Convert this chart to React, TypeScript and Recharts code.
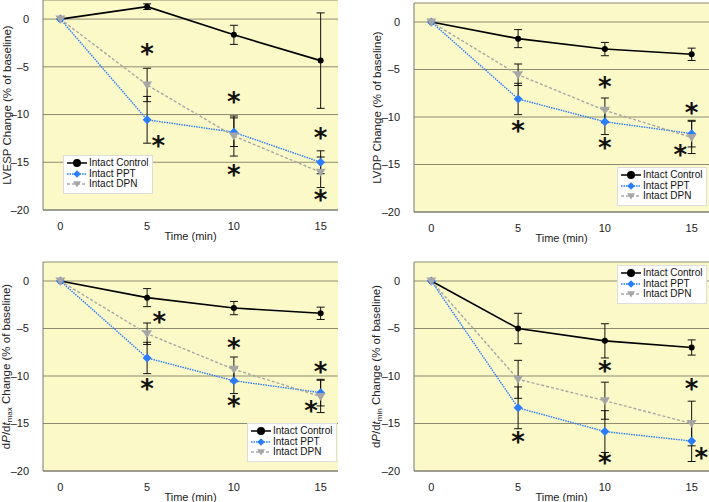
import React from 'react'
import {
  ComposedChart, Line, Scatter, XAxis, YAxis, CartesianGrid, ErrorBar,
} from 'recharts'

const TIMES = [0, 5, 10, 15]
const X_TICKS = [0, 5, 10, 15]
const Y_TICKS = [0, -5, -10, -15, -20]
const SERIES_NAMES = ['Intact Control', 'Intact PPT', 'Intact DPN']

// LVESP
const LVESP_CONTROL = [0, 1.3, -1.65, -4.35]
const LVESP_CONTROL_ERR = [0, 0.3, 1.0, 5.0]
const LVESP_PPT = [0, -10.55, -11.85, -15.0]
const LVESP_PPT_ERR = [0, 2.45, 1.5, 1.2]
const LVESP_DPN = [0, -6.9, -12.25, -16.05]
const LVESP_DPN_ERR = [0, 1.75, 2.1, 1.6]
const LVESP_STARS = [[5, -3.4], [5.65, -13.1], [10, -8.45], [10, -16.1], [15, -12.25], [15, -18.75]]

// LVDP
const LVDP_CONTROL = [0, -1.75, -2.85, -3.4]
const LVDP_CONTROL_ERR = [0, 0.95, 0.7, 0.65]
const LVDP_PPT = [0, -8.1, -10.5, -11.75]
const LVDP_PPT_ERR = [0, 1.65, 1.35, 1.4]
const LVDP_DPN = [0, -5.55, -9.3, -12.15]
const LVDP_DPN_ERR = [0, 1.13, 1.3, 1.7]
const LVDP_STARS = [[5, -11.25], [10, -6.6], [10, -13.1], [15, -9.4], [14.35, -13.8]]

// dP/dt max
const DPMAX_CONTROL = [0, -1.75, -2.85, -3.4]
const DPMAX_CONTROL_ERR = [0, 0.95, 0.7, 0.65]
const DPMAX_PPT = [0, -8.1, -10.5, -11.75]
const DPMAX_PPT_ERR = [0, 1.65, 1.35, 1.4]
const DPMAX_DPN = [0, -5.55, -9.3, -12.15]
const DPMAX_DPN_ERR = [0, 1.13, 1.3, 1.7]
const DPMAX_STARS = [[5.7, -4.15], [5, -11.2], [10, -6.8], [10, -12.9], [15, -9.35], [14.45, -13.45]]

// dP/dt min
const DPMIN_CONTROL = [0, -5.0, -6.3, -7.0]
const DPMIN_CONTROL_ERR = [0, 1.6, 1.8, 0.8]
const DPMIN_PPT = [0, -13.35, -15.85, -16.85]
const DPMIN_PPT_ERR = [0, 2.2, 2.2, 2.15]
const DPMIN_DPN = [0, -10.35, -12.6, -15.0]
const DPMIN_DPN_ERR = [0, 2.0, 1.95, 2.35]
const DPMIN_STARS = [[5, -16.7], [10, -9.3], [10, -18.9], [15, -11.2], [15.55, -18.4]]

const FONT = '"Liberation Sans", Arial, sans-serif'
const BG = '#fcf9c8'
const GRID = '#8e8c70'
const AXIS = '#777'
const BLUE = '#2a7dff'
const GREY = '#a6a6a6'

const fmtTick = (v: number) => (v < 0 ? `\u2013${Math.abs(v)}` : `${v}`)

function CircleDot({ cx, cy, r = 5 }: any) {
  if (cx == null || cy == null) return null
  return <circle cx={cx} cy={cy} r={r} fill="#000" />
}
function DiamondDot({ cx, cy, s = 4.5 }: any) {
  if (cx == null || cy == null) return null
  return <path d={`M${cx},${cy - s}L${cx + s},${cy}L${cx},${cy + s}L${cx - s},${cy}Z`} fill={BLUE} />
}
function TriDot({ cx, cy, s = 5 }: any) {
  if (cx == null || cy == null) return null
  return <path d={`M${cx - s},${cy - s * 0.7}L${cx + s},${cy - s * 0.7}L${cx},${cy + s * 0.9}Z`} fill={GREY} />
}

function Star({ cx, cy }: any) {
  if (cx == null || cy == null) return null
  return (
    <text x={cx} y={cy + 11} textAnchor="middle" fontSize={26} fontWeight="bold"
      fontFamily='"DejaVu Sans", sans-serif' fill="#111">*</text>
  )
}

function LegendBox({ left, top }: { left: number; top: number }) {
  const row = (i: number) => (
    <div key={i} style={{ display: 'flex', alignItems: 'center', height: 10.5 }}>
      <svg width={22} height={10}>
        <line x1={1} x2={21} y1={5} y2={5}
          stroke={i === 0 ? '#000' : i === 1 ? BLUE : GREY}
          strokeWidth={i === 0 ? 1.5 : 1.3}
          strokeDasharray={i === 0 ? undefined : i === 1 ? '1.5 1' : '3 2'} />
        {i === 0 && <CircleDot cx={11} cy={5} r={4} />}
        {i === 1 && <DiamondDot cx={11} cy={5} s={3.8} />}
        {i === 2 && <TriDot cx={11} cy={5} s={4} />}
      </svg>
      <span style={{ marginLeft: 1 }}>{SERIES_NAMES[i]}</span>
    </div>
  )
  return (
    <div style={{
      position: 'absolute', left, top,
      background: '#fff', border: '1px solid #ddd', padding: '2px 4px 3px 2px',
      fontFamily: FONT, fontSize: 10, color: '#111', lineHeight: '10px', whiteSpace: 'nowrap',
    }}>
      {[0, 1, 2].map(row)}
    </div>
  )
}

interface PanelProps {
  left: number
  top: number
  width: number
  height: number
  marginTop: number
  marginRight: number
  yAxisWidth: number
  xAxisHeight: number
  labelX: number
  yLabel: React.ReactNode
  legendPos: { left: number; top: number }
  control: number[]
  controlErr: number[]
  ppt: number[]
  pptErr: number[]
  dpn: number[]
  dpnErr: number[]
  stars: number[][]
}

function Panel(p: PanelProps) {
  const data = TIMES.map((t, i) => ({
    t,
    c: p.control[i], cErr: p.controlErr[i],
    p: p.ppt[i], pErr: p.pptErr[i],
    d: p.dpn[i], dErr: p.dpnErr[i],
  }))
  const starData = p.stars.map(([t, s]) => ({ t, s }))

  return (
    <div style={{ position: 'absolute', left: p.left, top: p.top, width: p.width, height: p.height }}>
      <ComposedChart width={p.width} height={p.height} data={data}
        margin={{ top: p.marginTop, right: p.marginRight, bottom: 0, left: 0 }}>
        <CartesianGrid vertical={false} stroke={GRID} fill={BG} fillOpacity={1} />
        <XAxis dataKey="t" type="number" domain={[-1, 16]} ticks={X_TICKS} allowDataOverflow
          height={p.xAxisHeight} tickLine={false} tickMargin={6} stroke={AXIS}
          tick={{ fill: '#222', fontSize: 11, fontFamily: FONT }}
          label={{
            content: ({ viewBox }: any) => (
              <text x={viewBox.x + viewBox.width / 2} y={viewBox.y + 30} textAnchor="middle"
                fontSize={11} fontFamily={FONT} fill="#222">Time (min)</text>
            ),
          }} />
        <YAxis type="number" domain={[-20, 2]} ticks={Y_TICKS} allowDataOverflow
          width={p.yAxisWidth} tickLine={false} tickMargin={8} stroke={AXIS}
          tickFormatter={fmtTick}
          tick={{ fill: '#222', fontSize: 11, fontFamily: FONT }}
          label={{
            content: ({ viewBox }: any) => {
              const cy = viewBox.y + viewBox.height / 2
              return (
                <text x={p.labelX} y={cy} transform={`rotate(-90 ${p.labelX} ${cy})`}
                  textAnchor="middle" dominantBaseline="central" fontSize={11.5}
                  fontFamily={FONT} fill="#222">{p.yLabel}</text>
              )
            },
          }} />
        <Line dataKey="c" stroke="#000" strokeWidth={1.6} dot={(d: any) => <CircleDot key={`c${d.index}`} {...d} />}
          isAnimationActive={false}>
          <ErrorBar dataKey="cErr" width={4} stroke="#111" strokeWidth={1} direction="y" />
        </Line>
        <Line dataKey="p" stroke={BLUE} strokeWidth={1.4} strokeDasharray="1.5 1"
          dot={(d: any) => <DiamondDot key={`p${d.index}`} {...d} />} isAnimationActive={false}>
          <ErrorBar dataKey="pErr" width={4} stroke="#111" strokeWidth={1} direction="y" />
        </Line>
        <Line dataKey="d" stroke={GREY} strokeWidth={1.4} strokeDasharray="3 2"
          dot={(d: any) => <TriDot key={`d${d.index}`} {...d} />} isAnimationActive={false}>
          <ErrorBar dataKey="dErr" width={4} stroke="#111" strokeWidth={1} direction="y" />
        </Line>
        <Scatter data={starData} dataKey="s" shape={(s: any) => <Star {...s} />} isAnimationActive={false} />
      </ComposedChart>
      <LegendBox left={p.legendPos.left} top={p.legendPos.top} />
    </div>
  )
}

const dpLabel = (sub: string) => (
  <>
    d<tspan fontStyle="italic">P</tspan>/d<tspan fontStyle="italic">t</tspan>
    <tspan fontSize={8} dy={3}>{sub}</tspan>
    <tspan dy={-3}> Change (% of baseline)</tspan>
  </>
)

export default function App() {
  return (
    <div style={{ position: 'absolute', left: 0, top: 0, width: 709, height: 502, background: '#fff' }}>
      <Panel left={0} top={0} width={355} height={250} marginTop={0} marginRight={17}
        yAxisWidth={43} xAxisHeight={40} labelX={7}
        yLabel="LVESP Change (% of baseline)" legendPos={{ left: 63, top: 155 }}
        control={LVESP_CONTROL} controlErr={LVESP_CONTROL_ERR}
        ppt={LVESP_PPT} pptErr={LVESP_PPT_ERR}
        dpn={LVESP_DPN} dpnErr={LVESP_DPN_ERR} stars={LVESP_STARS} />
      <Panel left={355} top={0} width={354} height={250} marginTop={3} marginRight={0}
        yAxisWidth={59} xAxisHeight={38} labelX={22}
        yLabel="LVDP Change (% of baseline)" legendPos={{ left: 262, top: 167 }}
        control={LVDP_CONTROL} controlErr={LVDP_CONTROL_ERR}
        ppt={LVDP_PPT} pptErr={LVDP_PPT_ERR}
        dpn={LVDP_DPN} dpnErr={LVDP_DPN_ERR} stars={LVDP_STARS} />
      <Panel left={0} top={250} width={355} height={252} marginTop={12} marginRight={17}
        yAxisWidth={43} xAxisHeight={31} labelX={6}
        yLabel={dpLabel('max')} legendPos={{ left: 247, top: 173 }}
        control={DPMAX_CONTROL} controlErr={DPMAX_CONTROL_ERR}
        ppt={DPMAX_PPT} pptErr={DPMAX_PPT_ERR}
        dpn={DPMAX_DPN} dpnErr={DPMAX_DPN_ERR} stars={DPMAX_STARS} />
      <Panel left={355} top={250} width={354} height={252} marginTop={12} marginRight={0}
        yAxisWidth={59} xAxisHeight={31} labelX={21}
        yLabel={dpLabel('min')} legendPos={{ left: 262, top: 15 }}
        control={DPMIN_CONTROL} controlErr={DPMIN_CONTROL_ERR}
        ppt={DPMIN_PPT} pptErr={DPMIN_PPT_ERR}
        dpn={DPMIN_DPN} dpnErr={DPMIN_DPN_ERR} stars={DPMIN_STARS} />
    </div>
  )
}
